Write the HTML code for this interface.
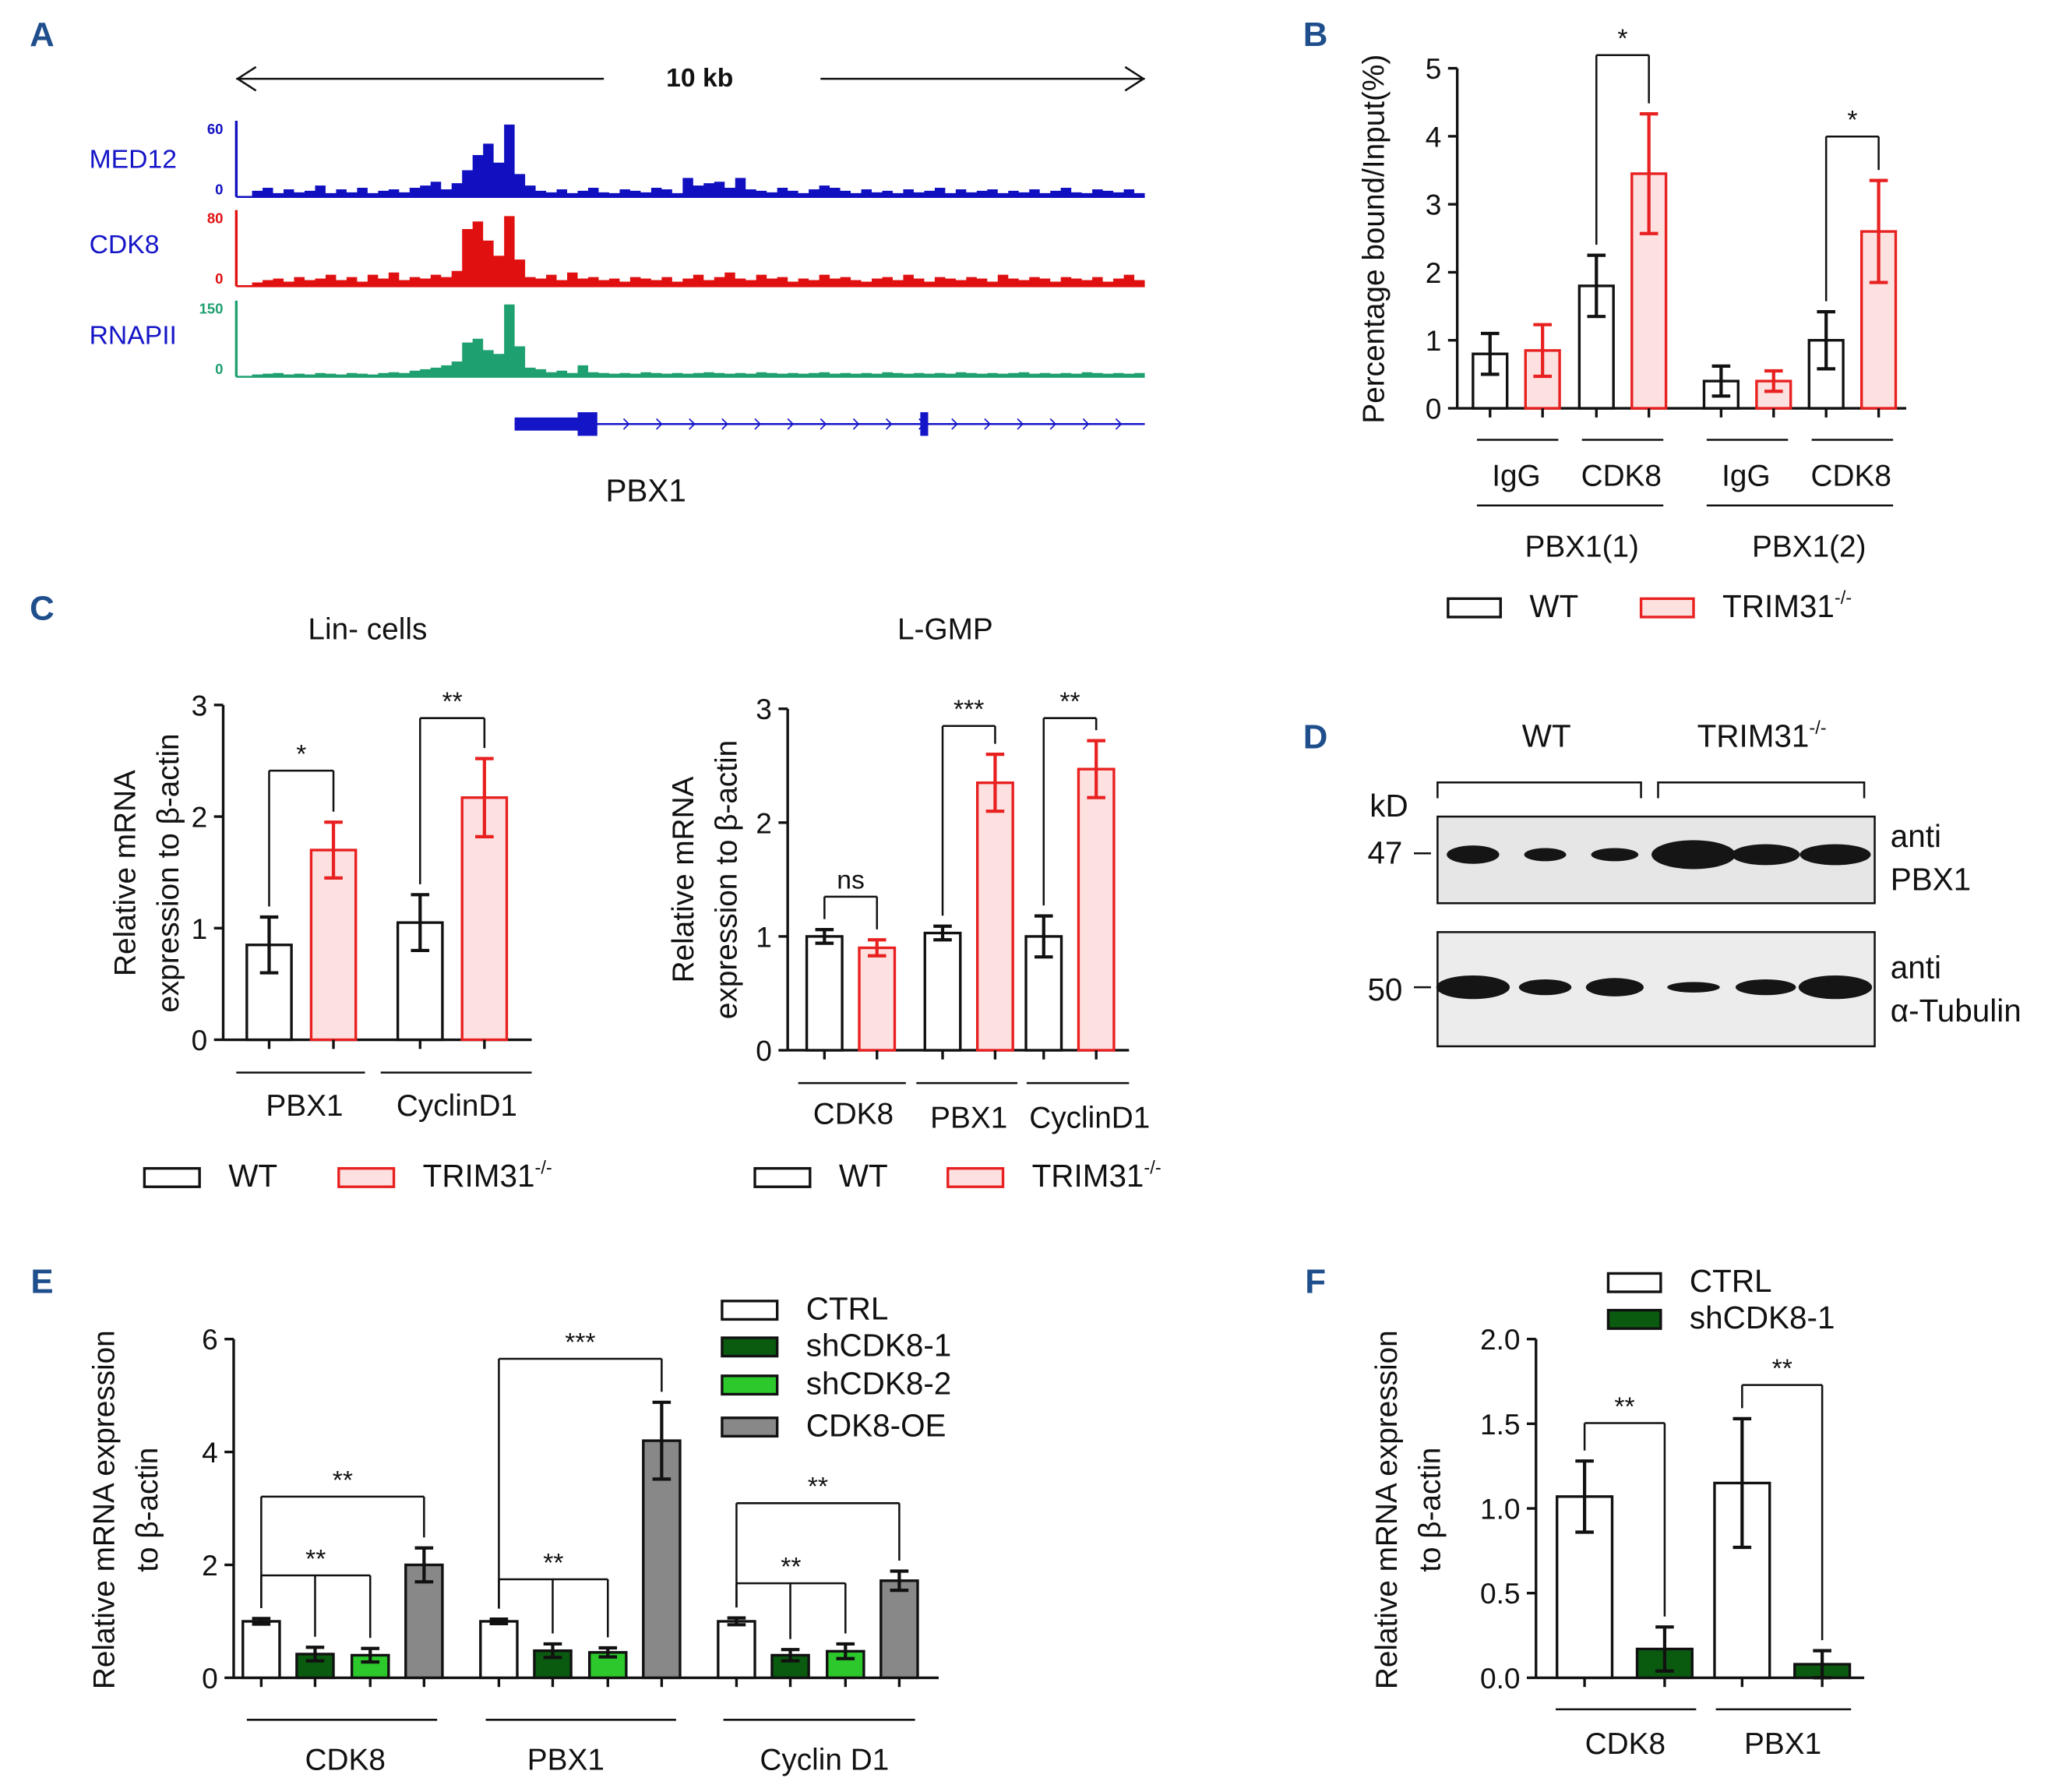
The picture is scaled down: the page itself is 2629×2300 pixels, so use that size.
<!DOCTYPE html>
<html><head><meta charset="utf-8"><style>
html,body{margin:0;padding:0;background:#fff;}
svg{display:block;font-family:"Liberation Sans",Arial,sans-serif;}
</style></head><body>
<svg id="fig" width="2629" height="2300" viewBox="0 0 1560 1365" preserveAspectRatio="none" xmlns="http://www.w3.org/2000/svg"></svg>
<script>
// ---------- DATA ----------
const medTrack=[.08,.12,.05,.1,.06,.08,.15,.05,.1,.06,.12,.05,.08,.1,.06,.12,.15,.2,.1,.18,.35,.55,.7,.45,.95,.3,.15,.08,.06,.1,.05,.08,.12,.06,.05,.1,.08,.06,.12,.1,.05,.25,.15,.18,.2,.12,.25,.1,.08,.06,.12,.08,.05,.1,.15,.12,.08,.05,.1,.06,.08,.05,.1,.06,.08,.12,.05,.1,.06,.08,.1,.05,.08,.06,.1,.05,.08,.12,.06,.05,.1,.08,.06,.1,.05];
const cdk8Track=[.05,.08,.1,.06,.12,.08,.1,.15,.08,.12,.06,.15,.1,.18,.08,.12,.1,.15,.12,.2,.75,.85,.6,.4,.92,.35,.12,.1,.15,.08,.18,.1,.12,.08,.1,.06,.12,.1,.08,.12,.06,.1,.15,.08,.12,.18,.1,.08,.15,.1,.12,.06,.1,.08,.15,.1,.12,.08,.06,.1,.12,.08,.15,.1,.06,.12,.1,.08,.12,.1,.06,.15,.1,.08,.12,.1,.06,.12,.1,.08,.12,.06,.1,.15,.08];
const polTrack=[.03,.04,.05,.03,.04,.03,.05,.04,.03,.05,.04,.03,.05,.06,.05,.08,.1,.12,.15,.2,.45,.5,.35,.3,.95,.4,.12,.1,.06,.08,.05,.15,.06,.05,.04,.05,.04,.06,.05,.04,.05,.04,.05,.06,.05,.04,.05,.04,.06,.05,.04,.05,.04,.05,.06,.04,.05,.04,.05,.04,.06,.05,.04,.05,.04,.05,.04,.06,.05,.04,.05,.04,.05,.06,.04,.05,.04,.05,.04,.06,.05,.04,.05,.04,.05];

const bCategories=["IgG","CDK8","IgG","CDK8"];
const bWT=[0.8,1.8,0.4,1.0];
const bWTerr=[0.3,0.45,0.22,0.42];
const bKO=[0.85,3.45,0.4,2.6];
const bKOerr=[0.38,0.88,0.15,0.75];
const bTicks=[0,1,2,3,4,5];

const c1Categories=["PBX1","CyclinD1"];
const c1WT=[0.85,1.05];
const c1WTerr=[0.25,0.25];
const c1KO=[1.7,2.17];
const c1KOerr=[0.25,0.35];
const cTicks=[0,1,2,3];

const c2Categories=["CDK8","PBX1","CyclinD1"];
const c2WT=[1.0,1.03,1.0];
const c2WTerr=[0.06,0.06,0.18];
const c2KO=[0.9,2.35,2.47];
const c2KOerr=[0.07,0.25,0.25];

const eCategories=["CDK8","PBX1","Cyclin D1"];
const eCTRL=[1.0,1.0,1.0];
const eCTRLerr=[0.05,0.04,0.06];
const eSh1=[0.42,0.48,0.4];
const eSh1err=[0.12,0.12,0.1];
const eSh2=[0.4,0.45,0.47];
const eSh2err=[0.12,0.08,0.13];
const eOE=[2.0,4.2,1.72];
const eOEerr=[0.3,0.68,0.17];
const eTicks=[0,2,4,6];

const fCategories=["CDK8","PBX1"];
const fCTRL=[1.07,1.15];
const fCTRLerr=[0.21,0.38];
const fSh=[0.17,0.08];
const fSherr=[0.13,0.08];
const fTicks=[0,0.5,1.0,1.5,2.0];

// ---------- HELPERS ----------
const NS="http://www.w3.org/2000/svg";
const svg=document.getElementById('fig');
function mk(tag,attrs,parent){const e=document.createElementNS(NS,tag);for(const k in attrs)e.setAttribute(k,attrs[k]);(parent||svg).appendChild(e);return e;}
function txt(x,y,s,size,opts){opts=opts||{};const e=mk('text',{x:x,y:y,'font-size':size,fill:opts.fill||'#111','text-anchor':opts.anchor||'middle','font-weight':opts.bold?'bold':'normal'},opts.parent);if(opts.rot)e.setAttribute('transform','rotate(-90 '+x+' '+y+')');e.textContent=s;return e;}
function line(x1,y1,x2,y2,w,c,parent){return mk('line',{x1:x1,y1:y1,x2:x2,y2:y2,stroke:c||'#111','stroke-width':w||2},parent);}

// panel letters
[["A",32,35],["B",1002,35],["C",32,472],["D",1002,570],["E",32,985],["F",1002,985]].forEach(p=>{
  const t=txt(p[1],p[2],p[0],26,{bold:true,fill:'#1f4e8c'});
  
  
});

// ---------- PANEL A ----------
(function(){
  const g=mk('g',{});
  
  
  line(180,60,460,60,1.5,'#111',g);line(625,60,872,60,1.5,'#111',g);
  mk('path',{d:'M195,51 L181,60 L195,69',fill:'none',stroke:'#111','stroke-width':1.5},g);
  mk('path',{d:'M857,51 L871,60 L857,69',fill:'none',stroke:'#111','stroke-width':1.5},g);
  const kb=txt(533,66,"10 kb",20,{bold:true,parent:g});
  
  
  const tracks=[["MED12",medTrack,'#1010c0',150,58,"60",128],["CDK8",cdk8Track,'#e01010',218,58,"80",193],["RNAPII",polTrack,'#1fa070',287,58,"150",262]];
  tracks.forEach(t=>{
    const [name,data,col,base,h,mx,ly]=t;
    const tg=mk('g',{},g);
    
    
    const lb=txt(68,ly,name,20,{anchor:'start',fill:'#1515c8',parent:tg});
    
    
    txt(170,base-h+10,mx,11,{anchor:'end',fill:col,bold:true,parent:tg});
    txt(170,base-2,"0",11,{anchor:'end',fill:col,bold:true,parent:tg});
    line(180,base-h,180,base,2,col,tg);
    line(180,base,872,base,1.5,col,tg);
    const x0=192,w=(872-x0)/data.length;
    let d='M'+x0+','+base;
    data.forEach((v,i)=>{const y=base-v*h;d+=' L'+(x0+i*w)+','+y+' L'+(x0+(i+1)*w)+','+y;});
    d+=' L872,'+base+' Z';
    const p=mk('path',{d:d,fill:col,stroke:'none'},tg);
    
    
  });
  const gene=mk('g',{},g);
  
  
  line(392,323,872,323,1.5,'#1515c8',gene);
  mk('rect',{x:392,y:318,width:50,height:10,fill:'#1515c8'},gene);
  mk('rect',{x:440,y:314,width:15,height:18,fill:'#1515c8'},gene);
  mk('rect',{x:701,y:314,width:6,height:18,fill:'#1515c8'},gene);
  for(let x=475;x<870;x+=25){mk('path',{d:'M'+x+',319 L'+(x+4)+',323 L'+x+',327',fill:'none',stroke:'#1515c8','stroke-width':1},gene);}
  const gl=txt(492,382,"PBX1",24,{parent:g});
  
  
})();

// ---------- generic bar chart ----------
function barChart(cfg){
  const g=mk('g',{});
  
  
  const Y=v=>cfg.y0-v*cfg.ppu;
  line(cfg.x0,cfg.y0,cfg.x0,Y(cfg.ticks[cfg.ticks.length-1]),2,'#111',g);
  line(cfg.x0,cfg.y0,cfg.xEnd,cfg.y0,2,'#111',g);
  cfg.ticks.forEach(t=>{line(cfg.x0-7,Y(t),cfg.x0,Y(t),2,'#111',g);
    const tl=txt(cfg.x0-12,Y(t)+8,cfg.tickFmt?t.toFixed(1):String(t),22,{anchor:'end',parent:g});
    
    });
  const pos=[];
  cfg.series.forEach((s,si)=>{
    pos.push([]);
    s.values.forEach((v,ci)=>{
      const cx=cfg.centers[ci]+cfg.offsets[si];
      const r=mk('rect',{x:cx-cfg.bw/2,y:Y(v),width:cfg.bw,height:v*cfg.ppu,fill:s.fill,stroke:s.stroke,'stroke-width':2},g);
      
      
      const e=s.err[ci],ec=s.ecol;
      const eb=mk('g',{},g);
      
      
      line(cx,Y(v+e),cx,Y(Math.max(0,v-e)),2.5,ec,eb);
      line(cx-7,Y(v+e),cx+7,Y(v+e),2.5,ec,eb);
      line(cx-7,Y(Math.max(0,v-e)),cx+7,Y(Math.max(0,v-e)),2.5,ec,eb);
      line(cx,cfg.y0,cx,cfg.y0+7,2,'#111',g);
      pos[si].push({x:cx,top:Y(v+e)});
    });
  });
  cfg.underlines.forEach(u=>line(u[0],u[1],u[2],u[1],1.5,'#111',g));
  cfg.labels.forEach(l=>{const t=txt(l[0],l[1],l[2],23,{parent:g});
    
    });
  cfg.ytitle.forEach(l=>{const t=txt(l[0],l[1],l[2],23,{rot:true,parent:g});
    
    });
  (cfg.sig||[]).forEach(s=>{
    const [ci,sis,ly,label]=s;
    const pts=sis.map(si=>pos[si][ci]);
    const sg=mk('g',{},g);
    
    
    line(pts[0].x,ly,pts[pts.length-1].x,ly,1.5,'#111',sg);
    pts.forEach(p=>line(p.x,ly,p.x,p.top-8,1.5,'#111',sg));
    txt((pts[0].x+pts[pts.length-1].x)/2,ly-6,label,20,{parent:sg});
  });
  (cfg.legend||[]).forEach(l=>{
    const lg=mk('g',{},g);
    
    
    mk('rect',{x:l[0],y:l[1],width:l[2],height:14,fill:l[3],stroke:l[4],'stroke-width':2},lg);
    const t=txt(l[0]+l[2]+22,l[1]+14,l[5],24,{anchor:'start',parent:lg});
    if(l[6]){const ts=mk('tspan',{dy:-10,'font-size':14},t);ts.textContent=l[6];}
  });
  return g;
}
const WT={fill:'#fff',stroke:'#111',ecol:'#111'},KO={fill:'#fde0e0',stroke:'#e82020',ecol:'#e82020'};

barChart({name:'panel-b-chip-chart',x0:1110,y0:311,ppu:51.8,xEnd:1452,ticks:bTicks,
  centers:[1155,1236,1331,1411],offsets:[-20,20],bw:26,
  series:[Object.assign({key:'wt',values:bWT,err:bWTerr},WT),Object.assign({key:'trim31',values:bKO,err:bKOerr},KO)],
  underlines:[[1125,335,1187],[1205,335,1267],[1300,335,1362],[1380,335,1442],[1125,385,1267],[1300,385,1442]],
  labels:[[1155,370,bCategories[0]],[1235,370,bCategories[1]],[1330,370,bCategories[2]],[1410,370,bCategories[3]],[1205,424,"PBX1(1)"],[1378,424,"PBX1(2)"]],
  ytitle:[[1054,182,"Percentage bound/Input(%)"]],
  sig:[[1,[0,1],42,"*"],[3,[0,1],104,"*"]],
  legend:[[1103,456,40,'#fff','#111','WT'],[1250,456,40,'#fde0e0','#e82020','TRIM31','-/-']]});

barChart({name:'panel-c-lin-cells-chart',x0:170,y0:792,ppu:85,xEnd:405,ticks:cTicks,
  centers:[230,345],offsets:[-25,24],bw:34,
  series:[Object.assign({key:'wt',values:c1WT,err:c1WTerr},WT),Object.assign({key:'trim31',values:c1KO,err:c1KOerr},KO)],
  underlines:[[180,817,278],[290,817,405]],
  labels:[[232,850,c1Categories[0]],[348,850,c1Categories[1]],[280,487,"Lin- cells"]],
  ytitle:[[103,665,"Relative mRNA"],[136,665,"expression to β-actin"]],
  sig:[[0,[0,1],587,"*"],[1,[0,1],547,"**"]],
  legend:[[110,890,42,'#fff','#111','WT'],[258,890,42,'#fde0e0','#e82020','TRIM31','-/-']]});

barChart({name:'panel-c-lgmp-chart',x0:600,y0:800,ppu:86.7,xEnd:860,ticks:cTicks,
  centers:[648,738,815],offsets:[-20,20],bw:27,
  series:[Object.assign({key:'wt',values:c2WT,err:c2WTerr},WT),Object.assign({key:'trim31',values:c2KO,err:c2KOerr},KO)],
  underlines:[[608,825,690],[698,825,775],[782,825,860]],
  labels:[[650,856,c2Categories[0]],[738,859,c2Categories[1]],[830,859,c2Categories[2]],[720,487,"L-GMP"]],
  ytitle:[[528,670,"Relative mRNA"],[561,670,"expression to β-actin"]],
  sig:[[0,[0,1],683,"ns"],[1,[0,1],553,"***"],[2,[0,1],547,"**"]],
  legend:[[575,890,42,'#fff','#111','WT'],[722,890,42,'#fde0e0','#e82020','TRIM31','-/-']]});

barChart({name:'panel-e-knockdown-chart',x0:178,y0:1278,ppu:43,xEnd:715,ticks:eTicks,
  centers:[261,442,623],offsets:[-62,-21,21,62],bw:28,
  series:[{key:'ctrl',values:eCTRL,err:eCTRLerr,fill:'#fff',stroke:'#111',ecol:'#111'},
    {key:'shcdk8-1',values:eSh1,err:eSh1err,fill:'#0a5a10',stroke:'#111',ecol:'#111'},
    {key:'shcdk8-2',values:eSh2,err:eSh2err,fill:'#2cc82c',stroke:'#111',ecol:'#111'},
    {key:'cdk8-oe',values:eOE,err:eOEerr,fill:'#888',stroke:'#111',ecol:'#111'}],
  underlines:[[188,1310,333],[370,1310,515],[551,1310,697]],
  labels:[[263,1348,eCategories[0]],[431,1348,eCategories[1]],[628,1348,eCategories[2]]],
  ytitle:[[87,1150,"Relative mRNA expression"],[120,1150,"to β-actin"]],
  sig:[[0,[0,1,2],1200,"**"],[0,[0,3],1140,"**"],[1,[0,1,2],1203,"**"],[1,[0,3],1035,"***"],[2,[0,1,2],1206,"**"],[2,[0,3],1145,"**"]],
  legend:[[550,991,42,'#fff','#111','CTRL'],[550,1019,42,'#0a5a10','#111','shCDK8-1'],[550,1048,42,'#2cc82c','#111','shCDK8-2'],[550,1080,42,'#888','#111','CDK8-OE']]});

barChart({name:'panel-f-knockdown-chart',x0:1170,y0:1278,ppu:129,xEnd:1420,ticks:fTicks,tickFmt:true,
  centers:[1238,1358],offsets:[-31,30],bw:42,
  series:[{key:'ctrl',values:fCTRL,err:fCTRLerr,fill:'#fff',stroke:'#111',ecol:'#111'},
    {key:'shcdk8-1',values:fSh,err:fSherr,fill:'#0a5a10',stroke:'#111',ecol:'#111'}],
  underlines:[[1185,1302,1292],[1307,1302,1410]],
  labels:[[1238,1336,fCategories[0]],[1358,1336,fCategories[1]]],
  ytitle:[[1064,1150,"Relative mRNA expression"],[1097,1150,"to β-actin"]],
  sig:[[0,[0,1],1084,"**"],[1,[0,1],1055,"**"]],
  legend:[[1225,970,40,'#fff','#111','CTRL'],[1225,998,40,'#0a5a10','#111','shCDK8-1']]});

// ---------- PANEL D (western blot) ----------
(function(){
  const g=mk('g',{});
  
  
  txt(1178,569,"WT",24,{parent:g});
  const t=txt(1342,569,"TRIM31",24,{parent:g});const ts=mk('tspan',{dy:-10,'font-size':14},t);ts.textContent='-/-';
  mk('path',{d:'M1095,608 L1095,596 L1250,596 L1250,608',fill:'none',stroke:'#111','stroke-width':1.5},g);
  mk('path',{d:'M1263,608 L1263,596 L1420,596 L1420,608',fill:'none',stroke:'#111','stroke-width':1.5},g);
  mk('rect',{x:1095,y:622,width:333,height:66,fill:'#e6e6e6',stroke:'#111','stroke-width':1.5},g);
  mk('rect',{x:1095,y:710,width:333,height:87,fill:'#ececec',stroke:'#111','stroke-width':1.5},g);
  const b1=[[1122,20,7],[1177,16,5],[1230,18,5],[1290,32,11],[1345,26,8],[1398,27,8]];
  const b2=[[1122,28,9],[1177,20,6],[1230,22,7],[1290,20,4],[1345,23,6],[1398,28,9]];
  b1.forEach(b=>mk('ellipse',{cx:b[0],cy:651,rx:b[1],ry:b[2],fill:'#151515'},g));
  b2.forEach(b=>mk('ellipse',{cx:b[0],cy:752,rx:b[1],ry:b[2],fill:'#151515'},g));
  txt(1058,622,"kD",24,{parent:g});txt(1055,658,"47",24,{parent:g});txt(1055,762,"50",24,{parent:g});
  line(1077,650,1090,650,1.5,'#111',g);line(1077,752,1090,752,1.5,'#111',g);
  txt(1440,645,"anti",24,{anchor:'start',parent:g});txt(1440,678,"PBX1",24,{anchor:'start',parent:g});
  txt(1440,745,"anti",24,{anchor:'start',parent:g});txt(1440,778,"α-Tubulin",24,{anchor:'start',parent:g});
})();
</script>
</body></html>
